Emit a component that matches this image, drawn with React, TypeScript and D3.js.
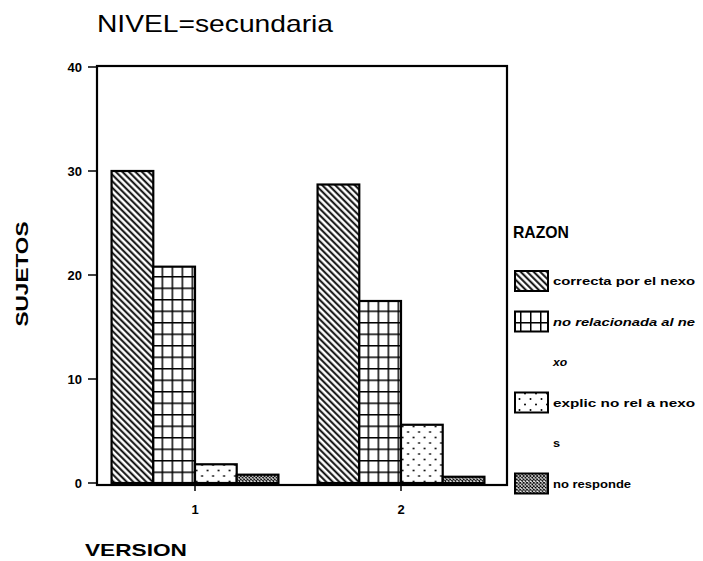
import React from "react";
import * as d3 from "d3";

const versions = ["1", "2"];
const razones = ["correcta por el nexo", "no relacionada al nexo", "explic no rel a nexos", "no responde"];
const legendLines = [["correcta por el nexo"], ["no relacionada al ne", "xo"], ["explic no rel a nexo", "s"], ["no responde"]];
const correcta = [30, 28.7];
const noRelacionada = [20.8, 17.5];
const explicNoRel = [1.8, 5.6];
const noResponde = [0.8, 0.6];
const yTicks = [0, 10, 20, 30, 40];

const series = [correcta, noRelacionada, explicNoRel, noResponde];
const patternIds = ["p-diag", "p-grid", "p-dots", "p-cross"];

export default function App() {
  const W = 703, H = 561;
  const left = 97, right = 507, top = 66, bottom = 485;
  const y = d3.scaleLinear().domain([0, 40]).range([483, 67]);
  const x0 = d3.scaleBand().domain(versions).range([92, 504]).paddingInner(0.19).paddingOuter(0.095);
  const x1 = d3.scaleBand().domain(razones).range([0, x0.bandwidth()]);
  const font = "Arial, 'Liberation Sans', Helvetica, sans-serif";

  const legendX = 515;
  const legendRowY = (i: number) => 281 + i * 40.5;
  const legendRowsStart = [0, 1, 3, 5];

  return (
    <svg width={W} height={H} style={{ position: "fixed", left: 0, top: 0, background: "#fff" }} fontFamily={font}>
      <defs>
        <pattern id="p-diag" patternUnits="userSpaceOnUse" width={4.6} height={4.6} patternTransform="rotate(-45)">
          <rect width={4.6} height={4.6} fill="#fff" />
          <line x1={1.2} y1={0} x2={1.2} y2={4.6} stroke="#000" strokeWidth={1.9} />
        </pattern>
        <pattern id="p-grid" patternUnits="userSpaceOnUse" width={10} height={11.5} x={0} y={483}>
          <rect width={10} height={11.5} fill="#fff" />
          <line x1={0} y1={0} x2={10} y2={0} stroke="#000" strokeWidth={3} />
          <line x1={0} y1={0} x2={0} y2={11.5} stroke="#000" strokeWidth={3} />
        </pattern>
        <pattern id="p-dots" patternUnits="userSpaceOnUse" width={11} height={11}>
          <rect width={11} height={11} fill="#fff" />
          <circle cx={2.5} cy={3} r={1} fill="#000" />
          <circle cx={8} cy={8.5} r={1} fill="#000" />
        </pattern>
        <pattern id="p-cross" patternUnits="userSpaceOnUse" width={3.4} height={3.4}>
          <rect width={3.4} height={3.4} fill="#fff" />
          <path d="M0,0 L3.4,3.4 M3.4,0 L0,3.4" stroke="#000" strokeWidth={0.9} />
        </pattern>
      </defs>

      <text x={97} y={32} fontSize={24} textLength={236} lengthAdjust="spacingAndGlyphs" fill="#000">NIVEL=secundaria</text>

      {versions.map((v, vi) => (
        <g key={v} transform={`translate(${x0(v)},0)`}>
          {series.map((s, si) => (
            <rect key={si} x={x1(razones[si])} y={y(s[vi])} width={x1.bandwidth()} height={y(0) - y(s[vi])}
              fill={`url(#${patternIds[si]})`} stroke="#000" strokeWidth={2.2} />
          ))}
        </g>
      ))}

      <rect x={left} y={top} width={right - left} height={bottom - top} fill="none" stroke="#000" strokeWidth={2.2} />

      {yTicks.map((t) => (
        <g key={t}>
          <line x1={88} x2={left} y1={y(t)} y2={y(t)} stroke="#000" strokeWidth={1.5} />
          <text x={82} y={y(t)} dy="0.35em" textAnchor="end" fontSize={13} fontWeight="bold">{t}</text>
        </g>
      ))}

      {versions.map((v) => {
        const cx = (x0(v) as number) + x0.bandwidth() / 2;
        return (
          <g key={v}>
            <line x1={cx} x2={cx} y1={bottom} y2={bottom + 6} stroke="#000" strokeWidth={1.5} />
            <text x={cx} y={514} textAnchor="middle" fontSize={13} fontWeight="bold">{v}</text>
          </g>
        );
      })}

      <text x={85} y={556} fontSize={17} fontWeight="bold" textLength={102} lengthAdjust="spacingAndGlyphs">VERSION</text>
      <text transform="translate(28,274) rotate(-90)" textAnchor="middle" fontSize={17} fontWeight="bold" textLength={105} lengthAdjust="spacingAndGlyphs">SUJETOS</text>

      <text x={513} y={238} fontSize={17} fontWeight="bold" textLength={56} lengthAdjust="spacingAndGlyphs">RAZON</text>
      {legendLines.map((lines, i) => {
        const ry = legendRowY(legendRowsStart[i]);
        return (
          <g key={i}>
            <rect x={legendX} y={ry - 10} width={33} height={20} fill={`url(#${patternIds[i]})`} stroke="#000" strokeWidth={2} />
            {lines.map((ln, li) => (
              <text key={li} x={553} y={legendRowY(legendRowsStart[i] + li)} dy="0.35em" fontSize={11.5} fontWeight="bold"
                fontStyle={i === 1 ? "italic" : "normal"}
                textLength={ln.length * 7.1} lengthAdjust="spacingAndGlyphs">{ln}</text>
            ))}
          </g>
        );
      })}
    </svg>
  );
}
